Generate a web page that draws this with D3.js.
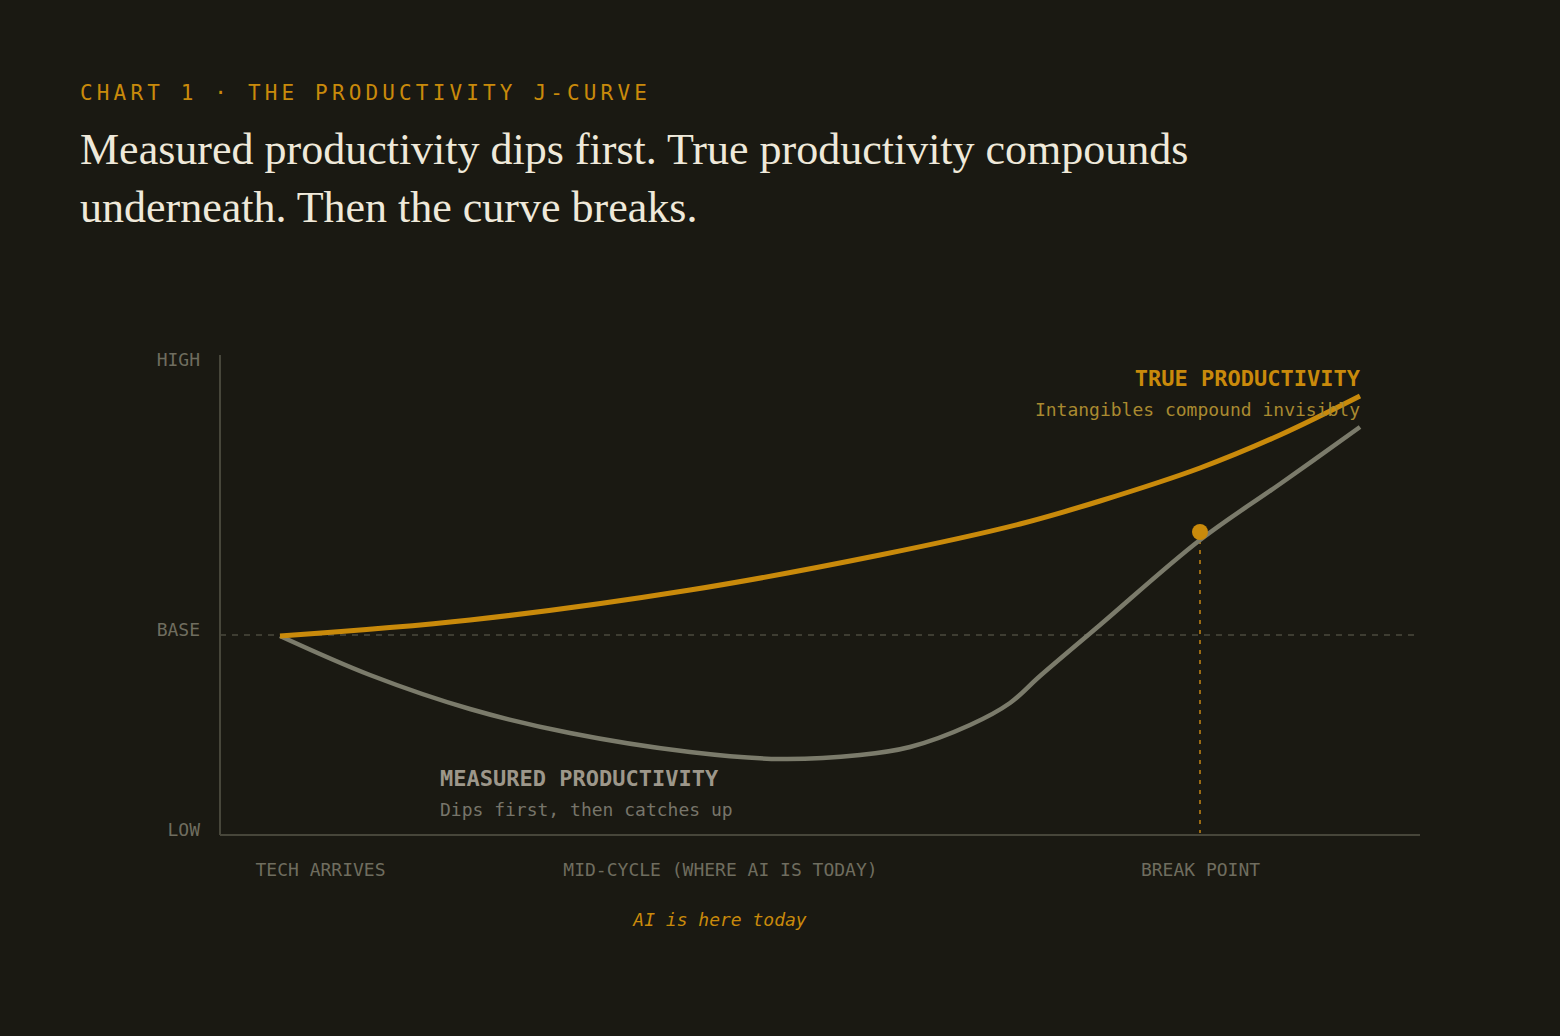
<!DOCTYPE html>
<html>
<head>
<meta charset="utf-8">
<script src="https://cdn.jsdelivr.net/npm/d3@7"></script>
<style>
  html, body { margin: 0; padding: 0; background: #1a1912; }
  svg { display: block; }
  .mono { font-family: "DejaVu Sans Mono", "Liberation Mono", monospace; }
</style>
</head>
<body>
<svg width="1560" height="1036"></svg>
<script>
// cycle position (0..1200) vs productivity level (0 = low, 200 = base, 480 = high)
const trueX = [60, 250, 470, 660, 800, 880, 980, 1060, 1140];
const trueY = [199, 215, 245, 280, 311, 334, 367, 400, 439];
const measuredX = [60, 150, 250, 350, 470, 560, 640, 690, 750, 790, 820, 880, 980, 1060, 1140];
const measuredY = [199, 160, 126, 102, 83, 76, 80, 88, 110, 132, 159, 210, 295, 351, 408];
const baseLevel = 200;
const breakX = 980;
const breakY = 303;
const phasePos = [100, 500, 980];
const phaseLabels = ["TECH ARRIVES", "MID-CYCLE (WHERE AI IS TODAY)", "BREAK POINT"];
const levelPos = [0, 200, 470];
const levelLabels = ["LOW", "BASE", "HIGH"];

const gold = "#c98a0b";
const grey = "#7b7b6b";
const dim = "#6f6d5f";

const svg = d3.select("svg");
const plot = {left: 220, right: 1420, top: 355, bottom: 835};

var x = d3.scaleLinear().domain([0, 1200]).range([plot.left, plot.right]);
var y = d3.scaleLinear().domain([0, 480]).range([plot.bottom, plot.top]);

// header
svg.append("text")
   .attr("class", "mono")
   .attr("x", 80).attr("y", 100)
   .attr("fill", gold)
   .attr("font-size", 21)
   .attr("letter-spacing", 4.15)
   .text("CHART 1 \u00b7 THE PRODUCTIVITY J-CURVE");

var head = svg.append("text")
   .attr("font-family", "'Liberation Serif', 'DejaVu Serif', serif")
   .attr("font-size", 44)
   .attr("fill", "#efe9da");
head.append("tspan").attr("x", 80).attr("y", 164)
    .text("Measured productivity dips first. True productivity compounds");
head.append("tspan").attr("x", 80).attr("y", 222)
    .text("underneath. Then the curve breaks.");

// base reference line
svg.append("line")
   .attr("x1", x(0)).attr("x2", x(1200))
   .attr("y1", y(baseLevel)).attr("y2", y(baseLevel))
   .attr("stroke", "#4b4a3e").attr("stroke-width", 1.5)
   .attr("stroke-dasharray", "6,6");

// axes lines
svg.append("line")
   .attr("x1", x(0)).attr("x2", x(0))
   .attr("y1", y(0)).attr("y2", y(480))
   .attr("stroke", "#47463a").attr("stroke-width", 2);
svg.append("line")
   .attr("x1", x(0)).attr("x2", x(1200))
   .attr("y1", y(0)).attr("y2", y(0))
   .attr("stroke", "#47463a").attr("stroke-width", 2);

// level labels
var yAxis = d3.axisLeft(y)
              .tickValues(levelPos)
              .tickFormat(function(d, i) { return levelLabels[i]; })
              .tickSize(0)
              .tickPadding(20);
svg.append("g")
   .attr("transform", "translate(" + plot.left + ",0)")
   .call(customYAxis);

function customYAxis(g) {
  g.call(yAxis);
  g.select(".domain").remove();
  g.selectAll(".tick text")
   .attr("class", "mono")
   .attr("font-size", 18)
   .attr("fill", dim)
   .attr("dy", "0.05em");
  g.attr("font-family", null);
}

// phase labels
var xAxis = d3.axisBottom(x)
              .tickValues(phasePos)
              .tickFormat(function(d, i) { return phaseLabels[i]; })
              .tickSize(0)
              .tickPadding(28);
svg.append("g")
   .attr("transform", "translate(0," + plot.bottom + ")")
   .call(customXAxis);

function customXAxis(g) {
  g.call(xAxis);
  g.select(".domain").remove();
  g.selectAll(".tick text")
   .attr("class", "mono")
   .attr("font-size", 18)
   .attr("fill", dim);
  g.attr("font-family", null);
}

svg.append("text")
   .attr("class", "mono")
   .attr("x", x(500)).attr("y", 926)
   .attr("text-anchor", "middle")
   .attr("font-size", 18)
   .attr("font-style", "italic")
   .attr("fill", gold)
   .text("AI is here today");

// break point marker
svg.append("line")
   .attr("x1", x(breakX)).attr("x2", x(breakX))
   .attr("y1", y(breakY) + 8).attr("y2", y(2))
   .attr("stroke", "#9a6a12").attr("stroke-width", 2)
   .attr("stroke-dasharray", "4,6");

// curves
var line = d3.line()
             .x(function(d) { return x(d[0]); })
             .y(function(d) { return y(d[1]); })
             .curve(d3.curveCatmullRom.alpha(0.5));

svg.append("path")
   .datum(d3.zip(measuredX, measuredY))
   .attr("d", line)
   .attr("fill", "none")
   .attr("stroke", grey)
   .attr("stroke-width", 4.5);

svg.append("path")
   .datum(d3.zip(trueX, trueY))
   .attr("d", line)
   .attr("fill", "none")
   .attr("stroke", gold)
   .attr("stroke-width", 5);

svg.append("circle")
   .attr("cx", x(breakX)).attr("cy", y(breakY))
   .attr("r", 8)
   .attr("fill", gold);

// series labels
svg.append("text")
   .attr("class", "mono")
   .attr("x", x(1140)).attr("y", 386)
   .attr("text-anchor", "end")
   .attr("font-size", 22).attr("font-weight", "bold")
   .attr("fill", gold)
   .text("TRUE PRODUCTIVITY");
svg.append("text")
   .attr("class", "mono")
   .attr("x", x(1140)).attr("y", 416)
   .attr("text-anchor", "end")
   .attr("font-size", 18)
   .attr("fill", "#a98a30")
   .text("Intangibles compound invisibly");

svg.append("text")
   .attr("class", "mono")
   .attr("x", 440).attr("y", 786)
   .attr("font-size", 22).attr("font-weight", "bold")
   .attr("fill", "#9d978a")
   .text("MEASURED PRODUCTIVITY");
svg.append("text")
   .attr("class", "mono")
   .attr("x", 440).attr("y", 816)
   .attr("font-size", 18)
   .attr("fill", "#77756a")
   .text("Dips first, then catches up");
</script>
</body>
</html>
